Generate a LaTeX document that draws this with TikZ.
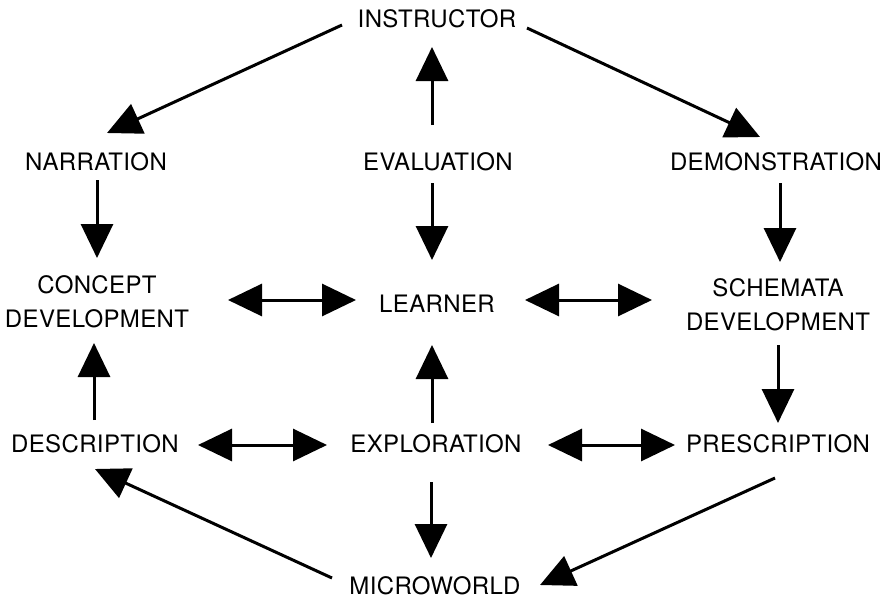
\documentclass[tikz,border=0pt]{standalone}
\usepackage{fontspec}
\setmainfont{TeX Gyre Heros}[LetterSpace=1.5]
\usetikzlibrary{arrows.meta}
\begin{document}
\begin{tikzpicture}[x=1pt,y=-1pt,
  lbl/.style={inner sep=0pt,align=center,font=\fontsize{24}{34}\selectfont},
  arr/.style={line width=3pt,-{Triangle[length=34pt,width=32pt]}},
  darr/.style={line width=3pt,{Triangle[length=34pt,width=32pt]}-{Triangle[length=34pt,width=32pt]}}]
\useasboundingbox (0,0) rectangle (894,600);
\node[lbl] (instr) at (437,19) {INSTRUCTOR};
\node[lbl] (narr) at (96,162) {NARRATION};
\node[lbl] (eval) at (438,162) {EVALUATION};
\node[lbl] (demo) at (776,162) {DEMONSTRATION};
\node[lbl] (concept) at (97,302) {CONCEPT\\DEVELOPMENT};
\node[lbl] (learner) at (437,304) {LEARNER};
\node[lbl] (schem) at (778,305) {SCHEMATA\\DEVELOPMENT};
\node[lbl] (desc) at (95,444) {DESCRIPTION};
\node[lbl] (expl) at (436,444) {EXPLORATION};
\node[lbl] (presc) at (778,444) {PRESCRIPTION};
\node[lbl] (micro) at (435,586) {MICROWORLD};
% connectors
\draw[arr] ([shift={(-95,6)}]instr.center) -- ([shift={(11,-29)}]narr.center);
\draw[arr] ([shift={(90,9)}]instr.center) -- ([shift={(-16,-25)}]demo.center);
\draw[arr] ([shift={(-6,-37)}]eval.center) -- ([shift={(-5,28)}]instr.center);
\draw[arr] ([shift={(-6,21)}]eval.center) -- ([shift={(-5,-44)}]learner.center);
\draw[arr] ([shift={(1,18)}]narr.center) -- ([shift={(0,-44)}]concept.center);
\draw[arr] ([shift={(4,21)}]demo.center) -- ([shift={(2,-43)}]schem.center);
\draw[darr] ([shift={(131,-2)}]concept.center) -- ([shift={(-81,-4)}]learner.center);
\draw[darr] ([shift={(88,-4)}]learner.center) -- ([shift={(-126,-5)}]schem.center);
\draw[arr] ([shift={(-1,-24)}]desc.center) -- ([shift={(-3,41)}]concept.center);
\draw[arr] ([shift={(0,40)}]schem.center) -- ([shift={(0,-21)}]presc.center);
\draw[darr] ([shift={(103,1)}]desc.center) -- ([shift={(-109,1)}]expl.center);
\draw[darr] ([shift={(112,1)}]expl.center) -- ([shift={(-103,1)}]presc.center);
\draw[arr] ([shift={(-4,-21)}]expl.center) -- ([shift={(-5,41)}]learner.center);
\draw[arr] ([shift={(-5,38)}]expl.center) -- ([shift={(-4,-28)}]micro.center);
\draw[arr] ([shift={(-103,-8)}]micro.center) -- ([shift={(0,25)}]desc.center);
\draw[arr] ([shift={(-3,34)}]presc.center) -- ([shift={(105,-1)}]micro.center);
\end{tikzpicture}
\end{document}
